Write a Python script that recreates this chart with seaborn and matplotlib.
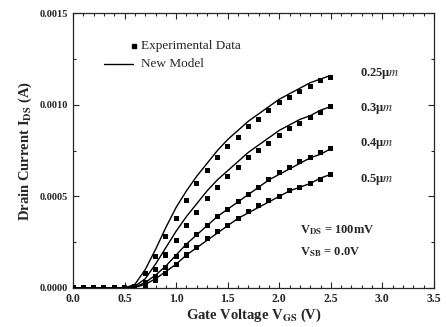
import numpy as np
import pandas as pd
import matplotlib
matplotlib.use("Agg")
import matplotlib.pyplot as plt
from matplotlib.ticker import MultipleLocator, FormatStrFormatter
import seaborn as sns

vgs = [round(0.1 * i, 1) for i in range(26)]

exp_025 = [0, 0, 0, 0, 0, 0, 0.00001, 0.00008, 0.00017, 0.00028, 0.00038, 0.00048, 0.00057,
           0.00064, 0.00071, 0.00077, 0.00082, 0.00088, 0.00092, 0.00097, 0.00101, 0.00104,
           0.00107, 0.00110, 0.00113, 0.00115]
exp_03 = [0, 0, 0, 0, 0, 0, 0.000005, 0.00003, 0.00010, 0.00018, 0.00026, 0.00034, 0.00041,
          0.00049, 0.00055, 0.00061, 0.00066, 0.00071, 0.00075, 0.00079, 0.00083, 0.00087,
          0.00090, 0.00093, 0.00096, 0.00099]
exp_04 = [0, 0, 0, 0, 0, 0, 0.000003, 0.00002, 0.00006, 0.00011, 0.00017, 0.00023, 0.00029,
          0.00034, 0.00039, 0.00043, 0.00047, 0.00051, 0.00055, 0.00059, 0.00063, 0.00066,
          0.00069, 0.00071, 0.00074, 0.00076]
exp_05 = [0, 0, 0, 0, 0, 0, 0.000002, 0.00001, 0.00004, 0.00008, 0.00013, 0.00018, 0.00022,
          0.00027, 0.00031, 0.00034, 0.00038, 0.00042, 0.00045, 0.00048, 0.00050, 0.00053,
          0.00055, 0.00057, 0.00059, 0.00062]

model_025 = [0, 0, 0, 0, 0, 0, 0.00002, 0.00010, 0.00021, 0.00033, 0.00044, 0.00053, 0.00061,
             0.00068, 0.00075, 0.00081, 0.00086, 0.00091, 0.00095, 0.00099, 0.00103, 0.00106,
             0.00109, 0.00112, 0.00114, 0.00116]
model_03 = [0, 0, 0, 0, 0, 0, 0.00001, 0.00005, 0.00013, 0.00022, 0.00031, 0.00039, 0.00046,
            0.00053, 0.00059, 0.00064, 0.00069, 0.00074, 0.00078, 0.00082, 0.00086, 0.00089,
            0.00092, 0.00094, 0.00097, 0.00099]
model_04 = [0, 0, 0, 0, 0, 0, 0.000005, 0.00003, 0.00007, 0.00012, 0.00018, 0.00024, 0.00029,
            0.00034, 0.00039, 0.00043, 0.00047, 0.00051, 0.00055, 0.00059, 0.00062, 0.00065,
            0.00068, 0.00071, 0.00073, 0.00076]
model_05 = [0, 0, 0, 0, 0, 0, 0.000003, 0.00002, 0.00005, 0.00009, 0.00013, 0.00018, 0.00022,
            0.00026, 0.00030, 0.00034, 0.00038, 0.00041, 0.00044, 0.00047, 0.00050, 0.00053,
            0.00055, 0.00057, 0.00060, 0.00062]

lengths = ["0.25", "0.3", "0.4", "0.5"]
exp_sets = [exp_025, exp_03, exp_04, exp_05]
model_sets = [model_025, model_03, model_04, model_05]

exp_df = pd.concat([pd.DataFrame({"V": vgs, "I": v, "L": l}) for l, v in zip(lengths, exp_sets)])
mod_df = pd.concat([pd.DataFrame({"V": vgs, "I": v, "L": l}) for l, v in zip(lengths, model_sets)])

sns.set_style("ticks")
plt.rcParams["font.family"] = ["Liberation Serif", "DejaVu Serif"]
plt.rcParams["mathtext.fontset"] = "stix"

fig = plt.figure(figsize=(4.46, 3.27), dpi=100)
ax = fig.add_axes([0.1637, 0.1193, 0.8093, 0.8407])

pal = {l: "black" for l in lengths}
sns.lineplot(data=mod_df, x="V", y="I", hue="L", palette=pal, linewidth=1.0,
             legend=False, ax=ax, estimator=None, sort=True)
sns.scatterplot(data=exp_df, x="V", y="I", hue="L", palette=pal, marker="s", s=13,
                linewidth=0, legend=False, ax=ax, zorder=3)

ax.set_xlim(0, 3.5)
ax.set_ylim(0, 0.0015)
ax.xaxis.set_major_locator(MultipleLocator(0.5))
ax.xaxis.set_minor_locator(MultipleLocator(0.1))
ax.yaxis.set_major_locator(MultipleLocator(0.0005))
ax.yaxis.set_minor_locator(MultipleLocator(0.00025))
ax.xaxis.set_major_formatter(FormatStrFormatter("%.1f"))
ax.yaxis.set_major_formatter(FormatStrFormatter("%.4f"))
ax.tick_params(which="both", direction="in", top=True, right=True, width=0.8)
ax.tick_params(which="major", length=4)
ax.tick_params(axis="x", which="major", labelsize=8.5)
ax.tick_params(axis="y", which="major", labelsize=7.5)
ax.tick_params(which="minor", length=2)
for lab in ax.get_xticklabels() + ax.get_yticklabels():
    lab.set_fontweight("bold")
for sp in ax.spines.values():
    sp.set_linewidth(0.9)

ax.set_xlabel("Gate Voltage V$_{\\mathbf{GS}}$ (V)", fontsize=10.5, fontweight="bold", labelpad=1)
ax.set_ylabel("Drain Current I$_{\\mathbf{DS}}$ (A)", fontsize=10.5, fontweight="bold", labelpad=4)

# legend
ax.plot([0.595], [0.00132], marker="s", color="black", markersize=3.5, linestyle="none")
ax.text(0.66, 0.00132, "Experimental Data", fontsize=9.5, va="center", ha="left")
ax.plot([0.3, 0.58], [0.00122, 0.00122], color="black", linewidth=1.0)
ax.text(0.66, 0.00122, "New Model", fontsize=9.5, va="center", ha="left")

label_y = [0.00117, 0.00098, 0.00079, 0.00059]
for l, y in zip(lengths, label_y):
    ax.text(2.78, y, l + "\u03bc$m$", fontsize=9, fontweight="bold", va="center", ha="left")

ax.text(2.2, 0.000315, "V$_{\\mathbf{DS}}$ = 100mV", fontsize=9, fontweight="bold", va="center")
ax.text(2.2, 0.000195, "V$_{\\mathbf{SB}}$ = 0.0V", fontsize=9, fontweight="bold", va="center")

fig.savefig("out.png", dpi=100)
